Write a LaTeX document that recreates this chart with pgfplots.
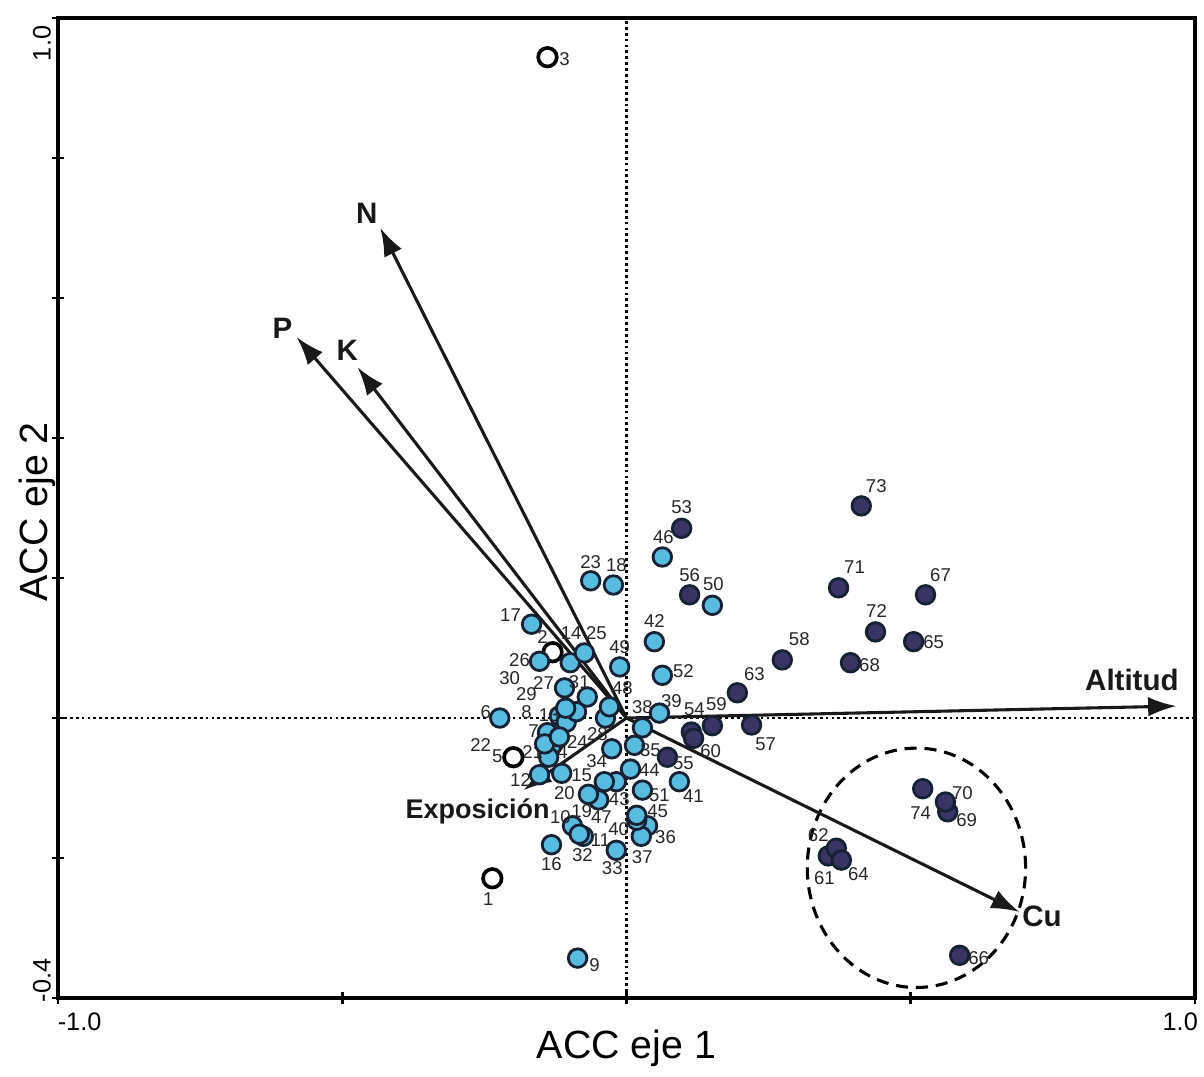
\documentclass[border=0pt]{standalone}
\usepackage{fontspec}
\setmainfont{Liberation Sans}
\usepackage{pgfplots}
\pgfplotsset{compat=1.18}
\usepackage{pgfplotstable}
\usetikzlibrary{arrows.meta}

\definecolor{celeste}{RGB}{88,188,224}
\definecolor{morado}{RGB}{58,52,100}
\definecolor{borde}{RGB}{22,34,52}

\tikzset{etiq/.style={font=\bfseries\fontsize{10.5}{12}\selectfont, text=black!90}}

% site scores: x y label, label offset (dx, dy) in px
\pgfplotstableread{
x y lab dx dy
-0.236 -0.229 1 -4 -21
-0.130 0.094 2 -10 15
-0.139 0.944 3 17 -2
-0.199 -0.056 5 -16 1
}\blancos

\pgfplotstableread{
x y lab dx dy
-0.132 -0.040 4 11 -6
-0.223 0.000 6 -14 6
-0.139 -0.021 7 -14 2
-0.118 0.003 8 -33 4
-0.086 -0.343 9 17 -7
-0.095 -0.154 10 -12 9
-0.076 -0.169 11 17 -4
-0.153 -0.081 12 -19 -5
-0.106 -0.006 13 -17 7
-0.099 0.079 14 1 30
-0.114 -0.079 15 20 -2
-0.132 -0.181 16 0 -19
-0.167 0.134 17 -21 9
-0.023 0.190 18 3 20
-0.049 -0.117 19 -17 -11
-0.067 -0.109 20 -24 1
-0.137 -0.056 21 -16 5
-0.144 -0.037 22 -64 -1
-0.063 0.196 23 0 19
-0.118 -0.027 24 18 -5
-0.074 0.093 25 12 20
-0.153 0.081 26 -20 1
-0.109 0.043 27 -21 5
-0.037 0.000 28 -8 -16
-0.088 0.009 29 -50 18
-0.107 0.014 30 -56 30
-0.069 0.030 31 -8 15
-0.083 -0.166 32 3 -21
-0.018 -0.189 33 -4 -18
-0.026 -0.044 34 -15 -12
0.014 -0.039 35 16 -5
0.037 -0.154 36 18 -11
0.026 -0.169 37 1 -21
0.028 -0.014 38 0 21
0.058 0.007 39 12 12
0.018 -0.146 40 -18 -9
0.093 -0.091 41 14 -14
0.049 0.109 42 0 21
-0.018 -0.091 43 3 -17
0.007 -0.073 44 19 -1
0.018 -0.139 45 21 4
0.063 0.230 46 1 20
-0.039 -0.091 47 -3 -35
-0.030 0.016 48 13 19
-0.012 0.073 49 0 20
0.151 0.161 50 1 21
0.028 -0.103 51 17 -5
0.063 0.061 52 21 4
}\azules

\pgfplotstableread{
x y lab dx dy
0.097 0.271 53 0 21
0.114 -0.020 54 3 23
0.072 -0.056 55 16 -6
0.111 0.176 56 0 20
0.220 -0.010 57 14 -19
0.274 0.083 58 17 21
0.151 -0.011 59 4 22
0.118 -0.029 60 17 -13
0.355 -0.197 61 -4 -22
0.369 -0.186 62 -18 13
0.195 0.036 63 17 19
0.378 -0.203 64 17 -14
0.505 0.109 65 20 0
0.586 -0.339 66 19 -3
0.526 0.176 67 15 20
0.394 0.079 68 19 -2
0.565 -0.134 69 19 -8
0.561 -0.120 70 17 9
0.373 0.186 71 16 21
0.438 0.123 72 1 21
0.413 0.303 73 15 20
0.521 -0.101 74 -2 -24
}\morados

\begin{document}
\begin{tikzpicture}
\begin{axis}[
  scale only axis, width=14.2125cm, height=12.25cm,
  xmin=-1, xmax=1, ymin=-0.4, ymax=1.0,
  xtick={-1,-0.5,0,0.5,1},
  ytick={-0.4,-0.2,0,0.2,0.4,0.6,0.8,1.0},
  xticklabels={}, yticklabels={},
  tick pos=left, tick align=center, major tick length=0.16cm,
  tick style={black, line width=1pt},
  axis line style={line width=1.3pt},
  clip=false,
  puntos/.style={only marks, mark=*, mark size=3.3pt,
    point meta=explicit symbolic,
    visualization depends on={0.3557*\thisrow{dx} \as \lx},
    visualization depends on={0.3557*\thisrow{dy} \as \ly},
    nodes near coords,
    every node near coord/.append style={anchor=center, inner sep=0pt,
      xshift=\lx pt, yshift=\ly pt, text=black!85,
      font=\fontsize{6.6}{7}\selectfont}},
  vector/.style={line width=1.1pt, black!90, -{Latex[length=10pt,width=7pt]}},
]
\coordinate (sw) at (rel axis cs:0,0);
\draw[line width=1pt, dash pattern=on 1pt off 1.1pt] (axis cs:0,-0.4) -- (axis cs:0,1);
\draw[line width=1pt, dash pattern=on 1pt off 1.1pt] (axis cs:-1,0) -- (axis cs:1,0);
\draw[line width=1.1pt, dash pattern=on 4.3pt off 2.8pt] (axis cs:0.510,-0.214) ellipse [x radius=0.192, y radius=0.171];

\addplot[puntos, mark options={fill=white, draw=black, line width=1.3pt}] table[meta=lab] \blancos;
\addplot[puntos, mark options={fill=celeste, draw=borde, line width=1pt}] table[meta=lab] \azules;
\addplot[puntos, mark options={fill=morado, draw=borde, line width=1pt}] table[meta=lab] \morados;

% environmental vectors
\addplot[vector] coordinates {(0,0) (-0.433,0.700)};
\addplot[vector] coordinates {(0,0) (-0.580,0.544)};
\addplot[vector] coordinates {(0,0) (-0.473,0.501)};
\addplot[vector] coordinates {(0,0) (0.967,0.017)};
\addplot[vector] coordinates {(0,0) (0.691,-0.277)};
\addplot[vector] coordinates {(0,0) (-0.181,-0.103)};

\node[etiq] at (axis cs:-0.457,0.721) {N};
\node[etiq] at (axis cs:-0.605,0.556) {P};
\node[etiq] at (axis cs:-0.491,0.525) {K};
\node[etiq] at (axis cs:0.889,0.054) {Altitud};
\node[etiq] at (axis cs:0.731,-0.283) {Cu};
\node[etiq, font=\bfseries\fontsize{9.6}{11}\selectfont] at (axis cs:-0.262,-0.134) {Exposición};

% axis titles and end tick labels
\node[font=\fontsize{14}{16}\selectfont] at ([yshift=-0.625cm]rel axis cs:0.5,0) {ACC eje 1};
\node[font=\fontsize{14}{16}\selectfont, rotate=90] at ([xshift=-0.2625cm]rel axis cs:0,0.496) {ACC eje 2};
\node[font=\fontsize{9}{10}\selectfont] at ([yshift=-0.3cm]rel axis cs:0.019,0) {-1.0};
\node[font=\fontsize{9}{10}\selectfont] at ([yshift=-0.3cm]rel axis cs:0.987,0) {1.0};
\node[font=\fontsize{9}{10}\selectfont, rotate=90] at ([xshift=-0.2cm]rel axis cs:0,0.974) {1.0};
\node[font=\fontsize{9}{10}\selectfont, rotate=90] at ([xshift=-0.2cm]rel axis cs:0,0.018) {-0.4};
\end{axis}
\pgfresetboundingbox
\path (sw) ++(-0.725cm,-0.975cm) rectangle ++(15.05cm,13.45cm);
\end{tikzpicture}
\end{document}
